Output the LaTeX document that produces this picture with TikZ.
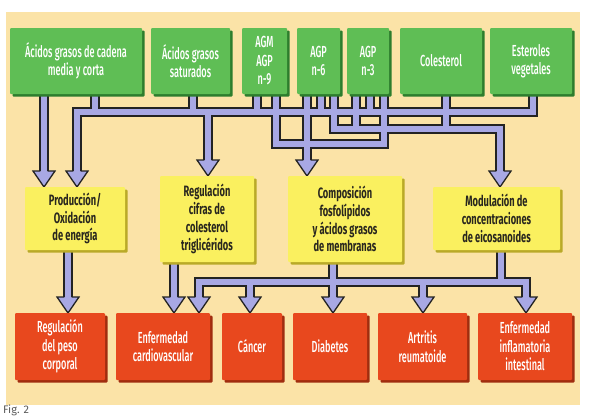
\documentclass[tikz,border=0pt]{standalone}
\usepackage{fontspec}
\setmainfont{Fira Sans}[FakeStretch=0.62]
\newfontfamily\medfont{Fira Sans Medium}[FakeStretch=0.57]
\newfontfamily\figfont{Fira Sans}
\usetikzlibrary{shadows,backgrounds}
\definecolor{bgc}{RGB}{251,227,167}
\definecolor{gfill}{RGB}{95,190,85}
\definecolor{gshade}{RGB}{45,125,45}
\definecolor{yfill}{RGB}{250,240,95}
\definecolor{yshade}{RGB}{185,170,40}
\definecolor{rfill}{RGB}{232,72,30}
\definecolor{rshade}{RGB}{160,45,15}
\definecolor{pipec}{RGB}{168,168,228}
\definecolor{outl}{RGB}{35,35,35}
\definecolor{ytext}{RGB}{40,38,30}
\newcommand\toppipes[1]{%
 \draw[#1] (44,90) -- (44,171);
 \draw[#1] (533,90) -- (533,112) -- (77,112) -- (77,171);
 \draw[#1] (95,90) -- (95,112);
 \draw[#1] (193,90) -- (193,112);
 \draw[#1] (208,112) -- (208,160);
 \draw[#1] (257,90) -- (257,112);
 \draw[#1] (276,90) -- (276,144) -- (384,144) -- (384,90);
 \draw[#1] (307,90) -- (307,160);
 \draw[#1] (321,90) -- (321,112);
 \draw[#1] (334,90) -- (334,129) -- (500,129) -- (500,171);
 \draw[#1] (356,90) -- (356,129);
 \draw[#1] (370,90) -- (370,112);
 \draw[#1] (446,90) -- (446,129);
}
\newcommand\botpipes[1]{%
 \draw[#1] (68,245) -- (68,297);
 \draw[#1] (174,255) -- (174,297);
 \draw[#1] (199,297) -- (199,282) -- (526,282) -- (526,297);
 \draw[#1] (250,282) -- (250,297);
 \draw[#1] (333,255) -- (333,297);
 \draw[#1] (423,282) -- (423,297);
 \draw[#1] (501,245) -- (501,282);
}
\newcommand\ahd[2]{%
 \fill[pipec] (#1-11,#2-16) -- (#1,#2) -- (#1+11,#2-16) -- cycle;
 \draw[outl, line width=1.3pt, line join=miter] (#1-3.6,#2-16) -- (#1-11,#2-16) -- (#1,#2) -- (#1+11,#2-16) -- (#1+3.6,#2-16);}
\begin{document}
\begin{tikzpicture}[x=1pt,y=-1pt,
  pipeout/.style={draw=outl, line width=9.5pt, line join=miter},
  pipein/.style={draw=pipec, line width=6.6pt, line join=miter},
  boxbase/.style={align=center, inner sep=0pt, rounded corners=1pt},
  gbox/.style={boxbase, fill=gfill, text=white, minimum height=66pt,
    font=\medfont\fontsize{16}{18.5}\selectfont,
    drop shadow={shadow xshift=2.5pt, shadow yshift=-2.5pt, fill=gshade, opacity=1}},
  ybox/.style={boxbase, fill=yfill, text=ytext,
    font=\bfseries\fontsize{15}{17.8}\selectfont,
    drop shadow={shadow xshift=2.5pt, shadow yshift=-2.5pt, fill=yshade, opacity=1}},
  rbox/.style={boxbase, fill=rfill, text=white, minimum height=67pt,
    font=\medfont\fontsize{16}{18.5}\selectfont,
    drop shadow={shadow xshift=2.5pt, shadow yshift=-2.5pt, fill=rshade, opacity=1}},
  figlabel/.style={anchor=base west, inner sep=0pt, text=black!65, font=\figfont\fontsize{11}{13}\selectfont}
]
\useasboundingbox (0,0) rectangle (593,415);
% green source boxes
\node[gbox, minimum width=132pt] (g1) at (76,61) {Ácidos grasos de cadena\\media y corta};
\node[gbox, minimum width=79pt] (g2) at (190.5,61) {Ácidos grasos\\saturados};
\node[gbox, minimum width=45pt] (g3) at (264.5,61) {AGM\\AGP\\n-9};
\node[gbox, minimum width=43pt] (g4) at (318.5,61) {AGP\\n-6};
\node[gbox, minimum width=42pt] (g5) at (368,61) {AGP\\n-3};
\node[gbox, minimum width=82pt] (g6) at (441,61) {Colesterol};
\node[gbox, minimum width=82pt] (g7) at (531,61) {Esteroles\\vegetales};
% yellow process boxes
\node[ybox, minimum width=100pt, minimum height=63pt] (y1) at (75,218.5) {Producción/\\Oxidación\\de energía};
\node[ybox, minimum width=94pt, minimum height=86pt] (y2) at (207,219) {Regulación\\cifras de\\colesterol\\triglicéridos};
\node[ybox, minimum width=114pt, minimum height=86pt] (y3) at (345,219) {Composición\\fosfolípidos\\y ácidos grasos\\de membranas};
\node[ybox, minimum width=127pt, minimum height=63pt] (y4) at (496.5,218.5) {Modulación de\\concentraciones\\de eicosanoides};
% red outcome boxes
\node[rbox, minimum width=90pt] (r1) at (60,346.5) {Regulación\\del peso\\corporal};
\node[rbox, minimum width=94pt] (r2) at (163,346.5) {Enfermedad\\cardiovascular};
\node[rbox, minimum width=60pt] (r3) at (252,346.5) {Cáncer};
\node[rbox, minimum width=74pt] (r4) at (330,346.5) {Diabetes};
\node[rbox, minimum width=89pt] (r5) at (422.5,346.5) {Artritis\\reumatoide};
\node[rbox, minimum width=94pt] (r6) at (525,346.5) {Enfermedad\\inflamatoria\\intestinal};
\node[figlabel] (fig) at (3,413) {Fig. 2};
\begin{scope}[on background layer]
 \fill[bgc] (6,12) rectangle (580,405);
 \toppipes{pipeout}
 \botpipes{pipeout}
 \toppipes{pipein}
 \botpipes{pipein}
 \ahd{44}{187}\ahd{77}{187}\ahd{208}{176}\ahd{307}{176}\ahd{500}{187}
 \ahd{68}{313}\ahd{174}{313}\ahd{199}{313}\ahd{250}{313}\ahd{333}{313}\ahd{423}{313}\ahd{526}{313}
\end{scope}
\end{tikzpicture}
\end{document}
